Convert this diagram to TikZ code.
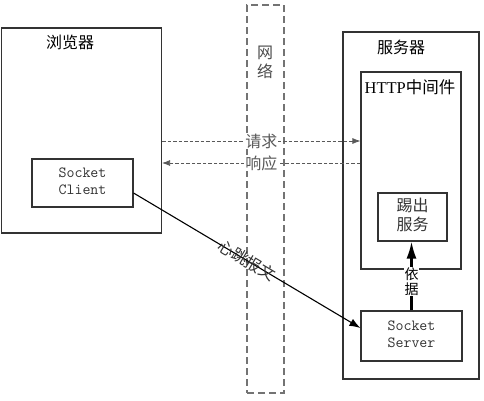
\documentclass[tikz,border=0pt]{standalone}
\usepackage{fontspec}
\setmainfont{Liberation Serif}
\newfontfamily\cjk{Noto Sans CJK SC}
\usepackage{tikz}
\usetikzlibrary{positioning, calc, arrows.meta}

\begin{document}
\begin{tikzpicture}[x=1pt, y=-1pt,
    box/.style = {draw, rectangle, inner sep=0pt, line width=1.1pt, color=black!80},
    cn/.style = {font=\fontsize{16}{19}\selectfont\cjk, inner sep=1pt},
    msg/.style = {dashed, dash pattern=on 3.5pt off 2pt, color=black!65, line width=0.8pt},
    tip/.style = {-{Latex[length=8pt, width=6pt]}}]
    \useasboundingbox (0,0) rectangle (484,400);
    % boxes
    \node [box, minimum width = 160pt, minimum height = 205pt] (browser) at (81.5,130.5) {};
    \node [box, minimum width = 101pt, minimum height = 48pt] (client) at (82.5,183)
    {\fontsize{15.5}{17}\selectfont\ttfamily\begin{tabular}{@{}c@{}}Socket\\Client\end{tabular}};
    \node [box, dashed, dash pattern=on 7pt off 4pt, color=black!55, line width=1.7pt,
    minimum width = 37pt, minimum height = 388pt] (net) at (265.5,199) {};
    \node [box, minimum width = 136pt, minimum height = 347pt] (server) at (411,205.5) {};
    \node [box, minimum width = 100pt, minimum height = 197pt] (http) at (411,170.5) {};
    \node [box, minimum width = 69pt, minimum height = 48pt] (kick) at (412.5,217)
    {\fontsize{16}{19}\selectfont\cjk\begin{tabular}{@{}c@{}}踢出\\服务\end{tabular}};
    \node [box, minimum width = 101pt, minimum height = 50pt] (sserver) at (411.5,336)
    {\fontsize{15.5}{17}\selectfont\ttfamily\begin{tabular}{@{}c@{}}Socket\\Server\end{tabular}};
    % titles
    \node [cn] (browsertitle) at (70,42) {浏览器};
    \node [cn] (servertitle) at (401,47) {服务器};
    \node [cn] (httptitle) at (410,87) {\fontsize{16.5}{19}\selectfont\rmfamily HTTP\cjk 中间件};
    \node [cn, align=center, color=black!70] (nettitle) at (265,62) {网\\络};
    % request / response
    \coordinate (req) at ($(browser.east) + (0,10.5)$);
    \coordinate (resp) at ($(browser.east) + (0,32.5)$);
    \draw [msg, tip] (req) -- (req -| http.west) node [cn, pos = 0.5, fill = white] {请求};
    \draw [msg, tip] (resp -| http.west) -- (resp) node [cn, pos = 0.5, fill = white] {响应};
    % heartbeat
    \draw [line width=1.1pt, -{Latex[length=11pt, width=8pt]}] ($(client.east) + (0,10)$)
    -- ($(sserver.west) + (0,-8)$) node [cn, pos = 0.5, sloped, color=black!80] {心跳报文};
    % kick out
    \draw [line width=2.2pt, -{Latex[length=17pt, width=10pt]}] (sserver.north)
    -- (sserver.north |- kick.south) node [cn, pos = 0.42, fill = white, align=center,
    font=\fontsize{14}{15}\selectfont\cjk, inner sep=0.5pt] {依\\据};
\end{tikzpicture}
\end{document}
